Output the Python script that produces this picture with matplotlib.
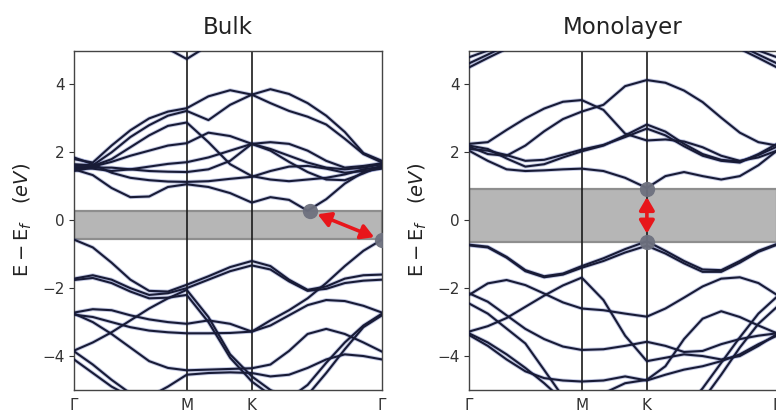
import numpy as np
import matplotlib
matplotlib.use('Agg')
import matplotlib.pyplot as plt

nan = np.nan

# ---- k-path (hexagonal BZ): Γ-M, M-K, K-Γ ----
kpoint_labels = ['Γ', 'M', 'K', 'Γ']
seg_lengths = [1 / np.sqrt(3), 1 / 3, 2 / 3]
seg_steps = [6, 3, 7]

# ---------------- Bulk bands (E - Ef, eV) at the k samples ----------------
bulk_c_top = [nan, nan, nan, nan, nan, 5.05, 4.75, 5.15, nan, nan, nan, nan, nan, nan, nan, nan, nan]
bulk_c1 = [1.80, 1.70, 2.20, 2.65, 3.00, 3.20, 3.30, 3.65, 3.83, 3.70, 3.45, 3.22, 3.05, 2.82, 2.40, 1.95, 1.70]
bulk_c2 = [1.65, 1.62, 2.00, 2.45, 2.80, 3.08, 3.22, 2.95, 3.40, 3.70, 3.86, 3.72, 3.45, 3.08, 2.60, 1.98, 1.75]
bulk_c3 = [1.60, 1.60, 1.80, 2.15, 2.50, 2.78, 2.88, 2.30, 1.65, 1.30, 1.20, 1.15, 1.20, 1.25, 1.35, 1.50, 1.58]
bulk_c4 = [1.50, 1.58, 1.72, 1.90, 2.05, 2.20, 2.27, 2.58, 2.48, 2.25, 2.30, 2.25, 2.05, 1.75, 1.55, 1.60, 1.68]
bulk_c5 = [1.55, 1.52, 1.45, 1.50, 1.58, 1.66, 1.71, 1.85, 2.05, 2.25, 2.05, 1.72, 1.42, 1.20, 1.18, 1.38, 1.62]
bulk_c6 = [1.85, 1.65, 1.40, 1.25, 1.18, 1.14, 1.13, 1.15, 1.22, 1.28, 1.45, 1.58, 1.60, 1.52, 1.40, 1.45, 1.52]
bulk_c7 = [1.45, 1.55, 1.55, 1.50, 1.45, 1.43, 1.42, 1.50, 1.75, 2.25, 2.10, 1.90, 1.70, 1.55, 1.50, 1.55, 1.65]
bulk_c8 = [1.50, 1.33, 0.95, 0.68, 0.70, 0.98, 1.06, 0.98, 0.80, 0.52, 0.68, 0.60, 0.28, 0.62, 1.08, 1.42, 1.55]

bulk_v1 = [-0.57, -0.80, -1.25, -1.75, -2.08, -2.10, -1.90, -1.65, -1.38, -1.20, -1.35, -1.75, -2.05, -1.95, -1.72, -1.62, -1.60]
bulk_v2 = [-1.72, -1.62, -1.75, -2.00, -2.20, -2.15, -2.00, -1.75, -1.50, -1.33, -1.45, -1.80, -2.08, -2.02, -1.85, -1.78, -1.75]
bulk_v3 = [-3.84, -3.60, -3.30, -2.95, -2.60, -2.30, -2.05, -2.85, -3.95, -4.60, -5.00, -5.25, -4.85, -4.20, -3.60, -3.10, -2.75]
bulk_v4 = [-1.76, -1.70, -1.85, -2.10, -2.30, -2.28, -2.20, -3.00, -4.05, -4.75, -5.15, -5.45, -5.15, -4.50, -3.80, -3.15, -2.80]
bulk_v5 = [-2.72, -2.62, -2.65, -2.80, -2.92, -3.00, -3.05, -2.95, -3.05, -3.28, -3.10, -2.80, -2.50, -2.35, -2.38, -2.52, -2.72]
bulk_v6 = [-2.78, -2.85, -3.00, -3.15, -3.25, -3.30, -3.33, -3.33, -3.32, -3.28, -2.95, -2.65, -2.30, -1.85, -1.35, -0.90, -0.57]
bulk_v7 = [-2.75, -3.00, -3.35, -3.75, -4.15, -4.35, -4.42, -4.40, -4.38, -4.36, -4.25, -3.85, -3.35, -3.20, -3.35, -3.60, -3.87]
bulk_v8 = [-4.10, -4.50, -4.90, -5.20, -5.20, -4.90, -4.55, -4.50, -4.48, -4.50, -4.60, -4.55, -4.35, -4.10, -3.95, -4.00, -4.10]
bulk_v9 = [-3.86, -4.25, -4.70, -5.10, -5.40, nan, nan, nan, nan, nan, nan, nan, nan, nan, nan, nan, nan]

bulk_gap = (-0.55, 0.26)
bulk_cbm = (1.208, 0.27)   # (k, E)
bulk_vbm = (1.577, -0.59)

# ---------------- Monolayer bands ----------------
mono_arc1 = [4.80, 5.00, 5.30, nan, nan, nan, nan, nan, nan, nan, nan, nan, nan, nan, 5.30, 5.00, 4.80]
mono_arc2 = [4.62, 4.88, 5.15, nan, nan, nan, nan, nan, nan, nan, nan, nan, nan, nan, 5.15, 4.88, 4.62]
mono_arc3 = [4.50, 4.78, 5.05, nan, nan, nan, nan, nan, nan, nan, nan, nan, nan, nan, 5.05, 4.78, 4.50]
mono_c1 = [2.25, 2.30, 2.66, 3.00, 3.29, 3.49, 3.54, 3.25, 2.55, 2.35, 2.38, 2.32, 2.15, 1.90, 1.75, 1.85, 2.05]
mono_c2 = [2.17, 1.95, 1.90, 2.20, 2.62, 2.98, 3.20, 3.40, 3.95, 4.13, 4.05, 3.82, 3.48, 3.02, 2.58, 2.30, 2.20]
mono_c3 = [2.20, 2.10, 1.82, 1.58, 1.65, 1.85, 2.03, 2.20, 2.50, 2.82, 2.61, 2.25, 1.95, 1.78, 1.73, 1.92, 2.17]
mono_c4 = [2.10, 2.05, 1.92, 1.75, 1.78, 1.93, 2.08, 2.22, 2.45, 2.70, 2.50, 2.18, 1.90, 1.75, 1.70, 1.95, 2.25]
mono_c5 = [2.05, 1.75, 1.50, 1.45, 1.47, 1.50, 1.52, 1.45, 1.25, 0.95, 1.30, 1.42, 1.30, 1.20, 1.30, 1.62, 2.05]

mono_v1 = [-0.72, -0.78, -1.08, -1.47, -1.65, -1.57, -1.35, -1.12, -0.85, -0.62, -0.90, -1.20, -1.45, -1.47, -1.20, -0.90, -0.70]
mono_v1b = [-0.74, -0.80, -1.10, -1.50, -1.68, -1.60, -1.40, -1.20, -0.95, -0.75, -0.98, -1.27, -1.52, -1.52, -1.25, -0.93, -0.72]
mono_v2 = [-2.20, -1.86, -1.76, -1.91, -2.16, -2.42, -2.60, -2.65, -2.75, -2.84, -2.60, -2.28, -1.95, -1.72, -1.68, -1.85, -2.20]
mono_v3 = [-3.28, -3.12, -2.88, -2.55, -2.22, -1.92, -1.69, -2.35, -3.40, -4.15, -4.05, -3.95, -4.00, -4.10, -4.00, -3.70, -3.35]
mono_v4 = [-2.15, -2.40, -2.80, -3.20, -3.50, -3.72, -3.82, -3.80, -3.70, -3.58, -3.70, -3.88, -3.85, -3.65, -3.50, -3.40, -3.33]
mono_v5 = [-2.45, -2.75, -3.19, -3.63, -4.41, -5.20, -5.60, -5.10, -4.80, -4.70, -4.30, -3.50, -2.90, -2.68, -2.85, -3.10, -3.33]
mono_v6 = [-3.33, -3.60, -3.95, -4.35, -4.80, -5.30, -5.60, -5.60, -5.60, -5.60, -5.60, -5.60, -4.95, -4.20, -3.45, -2.75, -2.25]
mono_v7 = [-3.38, -3.70, -4.10, -4.45, -4.65, -4.72, -4.75, -4.72, -4.60, -4.72, -4.55, -4.40, -4.30, -4.15, -3.95, -3.65, -3.40]
mono_v8 = [nan, nan, nan, nan, nan, nan, nan, nan, nan, nan, nan, -5.60, -5.30, -4.55, -3.75, -3.05, -2.55]

mono_gap = (-0.64, 0.93)
mono_cbm = (0.911, 0.93)
mono_vbm = (0.911, -0.64)

panel_titles = ['Bulk', 'Monolayer']
y_ticks = [-4, -2, 0, 2, 4]

# ---------------- drawing ----------------
k_hs = np.concatenate([[0], np.cumsum(seg_lengths)])
k = [0.0]
for s, (L, n) in enumerate(zip(seg_lengths, seg_steps)):
    k += [k_hs[s] + L * i / n for i in range(1, n + 1)]
k = np.array(k)

bulk_bands = [bulk_c_top, bulk_c1, bulk_c2, bulk_c3, bulk_c4, bulk_c5, bulk_c6, bulk_c7, bulk_c8,
              bulk_v1, bulk_v2, bulk_v3, bulk_v4, bulk_v5, bulk_v6, bulk_v7, bulk_v8, bulk_v9]
mono_bands = [mono_arc1, mono_arc2, mono_arc3, mono_c1, mono_c2, mono_c3, mono_c4, mono_c5,
              mono_v1, mono_v1b, mono_v2, mono_v3, mono_v4, mono_v5, mono_v6, mono_v7, mono_v8]

W, H = 776, 416
fig = plt.figure(figsize=(W / 100, H / 100), dpi=100)
axL = fig.add_axes([74 / W, 1 - 390 / H, 308 / W, 339.5 / H])
axR = fig.add_axes([469 / W, 1 - 390 / H, 308 / W, 339.5 / H])

line_col = '#181b36'
halo_col = '#3c4fa5'

panels = [(axL, bulk_bands, bulk_gap, bulk_cbm, bulk_vbm),
          (axR, mono_bands, mono_gap, mono_cbm, mono_vbm)]

for i, (ax, bands, gap, cbm, vbm) in enumerate(panels):
    ax.axhspan(gap[0], gap[1], facecolor='#b6b6b6', edgecolor='#8e8e8e', lw=1.6, zorder=1)
    for b in bands:
        ax.plot(k, b, color=halo_col, lw=2.8, alpha=0.30, zorder=2, solid_joinstyle='round')
        ax.plot(k, b, color=line_col, lw=1.5, zorder=3, solid_joinstyle='round')
    for kv in k_hs[1:3]:
        ax.axvline(kv, color='#1a1a1a', lw=1.2, zorder=2.5)
    ax.plot([cbm[0], vbm[0]], [cbm[1], vbm[1]], 'o', ms=11, color='#6e717f',
            mec='none', zorder=5, alpha=0.95)
    ax.annotate('', xy=vbm, xytext=cbm,
                arrowprops=dict(arrowstyle='<|-|>,head_length=0.55,head_width=0.32',
                                color='#e8161b', lw=2.6, shrinkA=6, shrinkB=6,
                                mutation_scale=14), zorder=6)
    ax.set_xlim(k_hs[0], k_hs[-1])
    ax.set_ylim(-5, 5)
    ax.set_xticks(k_hs)
    ax.set_xticklabels(kpoint_labels)
    ax.set_yticks(y_ticks)
    ax.set_yticklabels([f'{v}' if v >= 0 else f'\u2212{-v}' for v in y_ticks])
    ax.tick_params(axis='x', length=0, pad=6, labelsize=11, colors='#333333')
    ax.tick_params(axis='y', length=3.5, width=0.8, pad=3, labelsize=11, colors='#333333')
    for sp in ax.spines.values():
        sp.set_color('#444444')
        sp.set_linewidth(1.0)
    ax.set_title(panel_titles[i], fontsize=16.5, color='#222222', pad=12)
    ax.set_ylabel(r'$\mathrm{E - E}_f\quad(eV)$', fontsize=14, color='#222222', labelpad=6)

fig.savefig('out.png', dpi=100)
